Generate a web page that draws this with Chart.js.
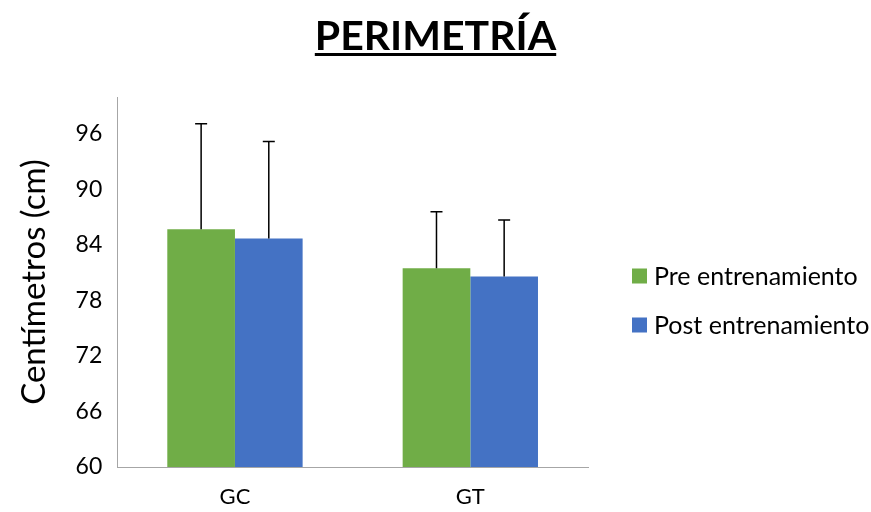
<!DOCTYPE html>
<html>
<head>
<meta charset="utf-8">
<script src="https://cdn.jsdelivr.net/npm/chart.js@4.4.1/dist/chart.umd.min.js"></script>
<style>
  html, body { margin: 0; padding: 0; background: #fff; }
  #wrap { width: 871px; height: 512px; position: relative; }
</style>
</head>
<body>
<div id="wrap"><canvas id="perimetria"></canvas></div>
<script>
// data
const categories = ['GC', 'GT'];
const seriesNames = ['Pre entrenamiento', 'Post entrenamiento'];
const preValues = [85.7, 81.5];
const postValues = [84.7, 80.6];
const preErrors = [11.4, 6.1];
const postErrors = [10.5, 6.1];
const yTicks = [60, 66, 72, 78, 84, 90, 96];
const chartTitle = 'PERIMETRÍA';

const FONT = "Lato, 'Open Sans', sans-serif";
const GREEN = '#70ad47';
const BLUE = '#4472c4';

// upward-only error bars, drawn from the bar elements
const errorBars = {
  id: 'errorBars',
  afterDatasetsDraw(chart) {
    const ctx = chart.ctx;
    const yScale = chart.scales.y;
    ctx.save();
    ctx.strokeStyle = '#000';
    ctx.lineWidth = 1.5;
    chart.data.datasets.forEach((ds, i) => {
      const meta = chart.getDatasetMeta(i);
      meta.data.forEach((bar, j) => {
        const top = yScale.getPixelForValue(ds.data[j] + ds.errors[j]);
        ctx.beginPath();
        ctx.moveTo(bar.x, bar.y);
        ctx.lineTo(bar.x, top);
        ctx.moveTo(bar.x - 6, top);
        ctx.lineTo(bar.x + 6, top);
        ctx.stroke();
      });
    });
    ctx.restore();
  }
};

// underlined title centred on the whole canvas
const pageTitle = {
  id: 'pageTitle',
  afterDraw(chart) {
    const ctx = chart.ctx;
    ctx.save();
    ctx.font = 'bold 41px ' + FONT;
    ctx.fillStyle = '#000';
    ctx.textAlign = 'center';
    ctx.textBaseline = 'alphabetic';
    const cx = chart.width / 2;
    ctx.fillText(chartTitle, cx, 50);
    const w = ctx.measureText(chartTitle).width;
    ctx.fillRect(cx - w / 2, 53, w, 3);
    ctx.restore();
  }
};

// legend at the right of the plot
const sideLegend = {
  id: 'sideLegend',
  afterDraw(chart) {
    const ctx = chart.ctx;
    const area = chart.chartArea;
    ctx.save();
    ctx.font = '25px ' + FONT;
    ctx.textBaseline = 'middle';
    chart.data.datasets.forEach((ds, i) => {
      const x = area.right + 44;
      const y = 276 + i * 49;
      ctx.fillStyle = ds.backgroundColor;
      ctx.fillRect(x, y - 7.5, 15, 15);
      ctx.fillStyle = '#000';
      ctx.fillText(ds.label, x + 22, y + 1);
    });
    ctx.restore();
  }
};

new Chart(document.getElementById('perimetria'), {
  type: 'bar',
  data: {
    labels: categories,
    datasets: [
      { label: seriesNames[0], data: preValues, errors: preErrors, backgroundColor: GREEN },
      { label: seriesNames[1], data: postValues, errors: postErrors, backgroundColor: BLUE }
    ]
  },
  options: {
    responsive: true,
    maintainAspectRatio: false,
    animation: false,
    layout: { padding: { left: 15, right: 283, top: 97, bottom: 0 } },
    datasets: { bar: { categoryPercentage: 0.575, barPercentage: 1.0 } },
    plugins: {
      legend: { display: false },
      tooltip: { enabled: false },
      title: { display: false }
    },
    scales: {
      x: {
        afterFit(scale) { scale.height = 45; },
        grid: { display: false, drawTicks: false },
        border: { color: '#a6a6a6', width: 1 },
        ticks: { color: '#000', font: { family: FONT, size: 22 }, padding: 17 }
      },
      y: {
        min: 60,
        max: 100,
        afterBuildTicks(scale) { scale.ticks = yTicks.map(v => ({ value: v })); },
        grid: { display: false, drawTicks: false },
        border: { color: '#a6a6a6', width: 1 },
        ticks: { color: '#000', font: { family: FONT, size: 23 }, padding: 15 },
        title: {
          display: true,
          text: 'Centímetros (cm)',
          color: '#000',
          font: { family: FONT, size: 33 },
          padding: { top: 0, bottom: 6 }
        }
      }
    }
  },
  plugins: [errorBars, pageTitle, sideLegend]
});
</script>
</body>
</html>
